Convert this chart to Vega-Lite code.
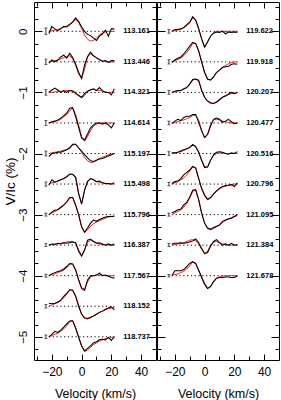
{
"$schema": "https://vega.github.io/schema/vega-lite/v6.json",
"autosize": {"type": "pad"},
"padding": {"left": 3, "top": 1, "right": 2, "bottom": 0},
"spacing": -5,
"config": {
 "view": {"stroke": null},
 "axis": {"labelFont": "Liberation Sans", "titleFont": "Liberation Sans", "labelFontSize": 12, "titleFontSize": 12.5, "titleFontWeight": "normal", "domainColor": "black", "tickColor": "black", "labelColor": "black", "titleColor": "black", "tickWidth": 1, "domainWidth": 1, "grid": false}
},
"datasets": {
 "Lm": [
  {"s":"113.161","off":0,"lo":-0.055,"hi":0.055},
  {"s":"113.446","off":-0.5,"lo":-0.545,"hi":-0.455},
  {"s":"114.321","off":-1,"lo":-1.045,"hi":-0.955},
  {"s":"114.614","off":-1.5,"lo":-1.54,"hi":-1.46},
  {"s":"115.197","off":-2,"lo":-2.04,"hi":-1.96},
  {"s":"115.498","off":-2.5,"lo":-2.535,"hi":-2.465},
  {"s":"115.796","off":-3,"lo":-3.025,"hi":-2.975},
  {"s":"116.387","off":-3.5,"lo":-3.525,"hi":-3.475},
  {"s":"117.567","off":-4,"lo":-4.025,"hi":-3.975},
  {"s":"118.152","off":-4.5,"lo":-4.53,"hi":-4.47},
  {"s":"118.737","off":-5,"lo":-5.03,"hi":-4.97}
 ],
 "Rm": [
  {"s":"119.622","off":0,"lo":-0.03,"hi":0.03},
  {"s":"119.918","off":-0.5,"lo":-0.535,"hi":-0.465},
  {"s":"120.207","off":-1,"lo":-1.03,"hi":-0.97},
  {"s":"120.477","off":-1.5,"lo":-1.53,"hi":-1.47},
  {"s":"120.516","off":-2,"lo":-2.03,"hi":-1.97},
  {"s":"120.796","off":-2.5,"lo":-2.53,"hi":-2.47},
  {"s":"121.095","off":-3,"lo":-3.025,"hi":-2.975},
  {"s":"121.384","off":-3.5,"lo":-3.525,"hi":-3.475},
  {"s":"121.678","off":-4,"lo":-4.02,"hi":-3.98}
 ],
 "L": [
  {"s":"113.161","v":-22,"o":-0.04,"m":0},{"s":"113.161","v":-20,"o":0.08,"m":0.01},{"s":"113.161","v":-18,"o":0.04,"m":0.02},{"s":"113.161","v":-16,"o":0.01,"m":0.03},{"s":"113.161","v":-14,"o":0.04,"m":0.05},{"s":"113.161","v":-12,"o":0.08,"m":0.07},{"s":"113.161","v":-10,"o":0.07,"m":0.09},{"s":"113.161","v":-8,"o":0.11,"m":0.12},{"s":"113.161","v":-6,"o":0.15,"m":0.16},{"s":"113.161","v":-4,"o":0.22,"m":0.19},{"s":"113.161","v":-2,"o":0.16,"m":0.15},{"s":"113.161","v":0,"o":0.07,"m":0.05},{"s":"113.161","v":2,"o":0,"m":-0.06},{"s":"113.161","v":4,"o":-0.05,"m":-0.13},{"s":"113.161","v":6,"o":-0.07,"m":-0.16},{"s":"113.161","v":8,"o":-0.11,"m":-0.15},{"s":"113.161","v":10,"o":-0.15,"m":-0.11},{"s":"113.161","v":12,"o":-0.08,"m":-0.06},{"s":"113.161","v":14,"o":-0.04,"m":-0.03},{"s":"113.161","v":16,"o":0.02,"m":-0.01},{"s":"113.161","v":18,"o":-0.08,"m":0},{"s":"113.161","v":20,"o":0.04,"m":0},{"s":"113.161","v":22,"o":0.04,"m":0},
  {"s":"113.446","v":-22,"o":-0.52,"m":-0.5},{"s":"113.446","v":-20,"o":-0.47,"m":-0.49},{"s":"113.446","v":-18,"o":-0.5,"m":-0.48},{"s":"113.446","v":-16,"o":-0.47,"m":-0.47},{"s":"113.446","v":-14,"o":-0.42,"m":-0.45},{"s":"113.446","v":-12,"o":-0.39,"m":-0.43},{"s":"113.446","v":-10,"o":-0.44,"m":-0.41},{"s":"113.446","v":-8,"o":-0.36,"m":-0.4},{"s":"113.446","v":-6,"o":-0.43,"m":-0.45},{"s":"113.446","v":-4,"o":-0.54,"m":-0.56},{"s":"113.446","v":-2,"o":-0.67,"m":-0.7},{"s":"113.446","v":0,"o":-0.77,"m":-0.77},{"s":"113.446","v":2,"o":-0.55,"m":-0.62},{"s":"113.446","v":4,"o":-0.41,"m":-0.42},{"s":"113.446","v":6,"o":-0.34,"m":-0.37},{"s":"113.446","v":8,"o":-0.4,"m":-0.4},{"s":"113.446","v":10,"o":-0.43,"m":-0.44},{"s":"113.446","v":12,"o":-0.46,"m":-0.47},{"s":"113.446","v":14,"o":-0.49,"m":-0.49},{"s":"113.446","v":16,"o":-0.48,"m":-0.49},{"s":"113.446","v":18,"o":-0.51,"m":-0.5},{"s":"113.446","v":20,"o":-0.48,"m":-0.5},{"s":"113.446","v":22,"o":-0.48,"m":-0.5},
  {"s":"114.321","v":-22,"o":-1,"m":-1},{"s":"114.321","v":-20,"o":-0.96,"m":-1},{"s":"114.321","v":-18,"o":-0.93,"m":-0.99},{"s":"114.321","v":-16,"o":-0.96,"m":-0.99},{"s":"114.321","v":-14,"o":-1,"m":-0.98},{"s":"114.321","v":-12,"o":-0.97,"m":-0.98},{"s":"114.321","v":-10,"o":-1,"m":-0.97},{"s":"114.321","v":-8,"o":-0.97,"m":-0.97},{"s":"114.321","v":-6,"o":-0.98,"m":-0.97},{"s":"114.321","v":-4,"o":-1.02,"m":-1},{"s":"114.321","v":-2,"o":-1.05,"m":-1.05},{"s":"114.321","v":0,"o":-1.08,"m":-1.09},{"s":"114.321","v":2,"o":-1.02,"m":-1.05},{"s":"114.321","v":4,"o":-0.98,"m":-0.98},{"s":"114.321","v":6,"o":-0.96,"m":-0.95},{"s":"114.321","v":8,"o":-0.94,"m":-0.95},{"s":"114.321","v":10,"o":-0.97,"m":-0.96},{"s":"114.321","v":12,"o":-0.92,"m":-0.97},{"s":"114.321","v":14,"o":-0.97,"m":-0.98},{"s":"114.321","v":16,"o":-1,"m":-0.99},{"s":"114.321","v":18,"o":-1,"m":-1},{"s":"114.321","v":20,"o":-1.04,"m":-1},{"s":"114.321","v":22,"o":-0.94,"m":-1},
  {"s":"114.614","v":-22,"o":-1.5,"m":-1.5},{"s":"114.614","v":-20,"o":-1.48,"m":-1.49},{"s":"114.614","v":-18,"o":-1.47,"m":-1.48},{"s":"114.614","v":-16,"o":-1.45,"m":-1.46},{"s":"114.614","v":-14,"o":-1.42,"m":-1.44},{"s":"114.614","v":-12,"o":-1.38,"m":-1.4},{"s":"114.614","v":-10,"o":-1.34,"m":-1.36},{"s":"114.614","v":-8,"o":-1.26,"m":-1.3},{"s":"114.614","v":-6,"o":-1.25,"m":-1.26},{"s":"114.614","v":-4,"o":-1.4,"m":-1.36},{"s":"114.614","v":-2,"o":-1.57,"m":-1.54},{"s":"114.614","v":0,"o":-1.75,"m":-1.72},{"s":"114.614","v":2,"o":-1.78,"m":-1.8},{"s":"114.614","v":4,"o":-1.68,"m":-1.72},{"s":"114.614","v":6,"o":-1.58,"m":-1.62},{"s":"114.614","v":8,"o":-1.53,"m":-1.55},{"s":"114.614","v":10,"o":-1.5,"m":-1.52},{"s":"114.614","v":12,"o":-1.5,"m":-1.5},{"s":"114.614","v":14,"o":-1.52,"m":-1.5},{"s":"114.614","v":16,"o":-1.5,"m":-1.5},{"s":"114.614","v":18,"o":-1.53,"m":-1.5},{"s":"114.614","v":20,"o":-1.58,"m":-1.5},{"s":"114.614","v":22,"o":-1.5,"m":-1.5},
  {"s":"115.197","v":-22,"o":-2.05,"m":-2},{"s":"115.197","v":-20,"o":-2,"m":-1.99},{"s":"115.197","v":-18,"o":-1.99,"m":-1.98},{"s":"115.197","v":-16,"o":-1.98,"m":-1.97},{"s":"115.197","v":-14,"o":-1.98,"m":-1.96},{"s":"115.197","v":-12,"o":-1.96,"m":-1.95},{"s":"115.197","v":-10,"o":-1.94,"m":-1.93},{"s":"115.197","v":-8,"o":-1.91,"m":-1.9},{"s":"115.197","v":-6,"o":-1.85,"m":-1.86},{"s":"115.197","v":-4,"o":-1.85,"m":-1.85},{"s":"115.197","v":-2,"o":-1.91,"m":-1.9},{"s":"115.197","v":0,"o":-1.96,"m":-1.98},{"s":"115.197","v":2,"o":-2.02,"m":-2.06},{"s":"115.197","v":4,"o":-2.07,"m":-2.12},{"s":"115.197","v":6,"o":-2.12,"m":-2.15},{"s":"115.197","v":8,"o":-2.13,"m":-2.14},{"s":"115.197","v":10,"o":-2.11,"m":-2.11},{"s":"115.197","v":12,"o":-2.09,"m":-2.08},{"s":"115.197","v":14,"o":-2.08,"m":-2.06},{"s":"115.197","v":16,"o":-2.06,"m":-2.04},{"s":"115.197","v":18,"o":-2.04,"m":-2.02},{"s":"115.197","v":20,"o":-2.02,"m":-2.01},{"s":"115.197","v":22,"o":-2,"m":-2},
  {"s":"115.498","v":-22,"o":-2.52,"m":-2.5},{"s":"115.498","v":-20,"o":-2.43,"m":-2.48},{"s":"115.498","v":-18,"o":-2.47,"m":-2.47},{"s":"115.498","v":-16,"o":-2.45,"m":-2.45},{"s":"115.498","v":-14,"o":-2.43,"m":-2.43},{"s":"115.498","v":-12,"o":-2.41,"m":-2.41},{"s":"115.498","v":-10,"o":-2.38,"m":-2.38},{"s":"115.498","v":-8,"o":-2.34,"m":-2.34},{"s":"115.498","v":-6,"o":-2.34,"m":-2.34},{"s":"115.498","v":-4,"o":-2.39,"m":-2.39},{"s":"115.498","v":-2,"o":-2.66,"m":-2.65},{"s":"115.498","v":0,"o":-2.83,"m":-2.82},{"s":"115.498","v":2,"o":-2.6,"m":-2.6},{"s":"115.498","v":4,"o":-2.46,"m":-2.45},{"s":"115.498","v":6,"o":-2.41,"m":-2.41},{"s":"115.498","v":8,"o":-2.43,"m":-2.43},{"s":"115.498","v":10,"o":-2.46,"m":-2.46},{"s":"115.498","v":12,"o":-2.45,"m":-2.47},{"s":"115.498","v":14,"o":-2.48,"m":-2.48},{"s":"115.498","v":16,"o":-2.49,"m":-2.49},{"s":"115.498","v":18,"o":-2.49,"m":-2.5},{"s":"115.498","v":20,"o":-2.5,"m":-2.5},{"s":"115.498","v":22,"o":-2.48,"m":-2.5},
  {"s":"115.796","v":-22,"o":-3,"m":-3},{"s":"115.796","v":-20,"o":-2.96,"m":-2.97},{"s":"115.796","v":-18,"o":-2.93,"m":-2.95},{"s":"115.796","v":-16,"o":-2.92,"m":-2.92},{"s":"115.796","v":-14,"o":-2.88,"m":-2.89},{"s":"115.796","v":-12,"o":-2.84,"m":-2.85},{"s":"115.796","v":-10,"o":-2.79,"m":-2.8},{"s":"115.796","v":-8,"o":-2.72,"m":-2.73},{"s":"115.796","v":-6,"o":-2.72,"m":-2.72},{"s":"115.796","v":-4,"o":-2.85,"m":-2.84},{"s":"115.796","v":-2,"o":-3,"m":-3},{"s":"115.796","v":0,"o":-3.2,"m":-3.2},{"s":"115.796","v":2,"o":-3.29,"m":-3.29},{"s":"115.796","v":4,"o":-3.22,"m":-3.25},{"s":"115.796","v":6,"o":-3.14,"m":-3.19},{"s":"115.796","v":8,"o":-3.09,"m":-3.15},{"s":"115.796","v":10,"o":-3.11,"m":-3.12},{"s":"115.796","v":12,"o":-3.08,"m":-3.1},{"s":"115.796","v":14,"o":-3.06,"m":-3.08},{"s":"115.796","v":16,"o":-3.04,"m":-3.06},{"s":"115.796","v":18,"o":-3.03,"m":-3.04},{"s":"115.796","v":20,"o":-3.03,"m":-3.03},{"s":"115.796","v":22,"o":-3.03,"m":-3.02},
  {"s":"116.387","v":-22,"o":-3.5,"m":-3.5},{"s":"116.387","v":-20,"o":-3.48,"m":-3.49},{"s":"116.387","v":-18,"o":-3.49,"m":-3.48},{"s":"116.387","v":-16,"o":-3.47,"m":-3.48},{"s":"116.387","v":-14,"o":-3.48,"m":-3.47},{"s":"116.387","v":-12,"o":-3.46,"m":-3.46},{"s":"116.387","v":-10,"o":-3.47,"m":-3.45},{"s":"116.387","v":-8,"o":-3.46,"m":-3.44},{"s":"116.387","v":-6,"o":-3.45,"m":-3.44},{"s":"116.387","v":-4,"o":-3.46,"m":-3.47},{"s":"116.387","v":-2,"o":-3.6,"m":-3.58},{"s":"116.387","v":0,"o":-3.68,"m":-3.67},{"s":"116.387","v":2,"o":-3.58,"m":-3.58},{"s":"116.387","v":4,"o":-3.42,"m":-3.45},{"s":"116.387","v":6,"o":-3.4,"m":-3.42},{"s":"116.387","v":8,"o":-3.44,"m":-3.44},{"s":"116.387","v":10,"o":-3.47,"m":-3.46},{"s":"116.387","v":12,"o":-3.46,"m":-3.48},{"s":"116.387","v":14,"o":-3.48,"m":-3.49},{"s":"116.387","v":16,"o":-3.5,"m":-3.49},{"s":"116.387","v":18,"o":-3.48,"m":-3.5},{"s":"116.387","v":20,"o":-3.5,"m":-3.5},{"s":"116.387","v":22,"o":-3.48,"m":-3.5},
  {"s":"117.567","v":-22,"o":-4,"m":-4},{"s":"117.567","v":-20,"o":-3.97,"m":-3.98},{"s":"117.567","v":-18,"o":-3.95,"m":-3.97},{"s":"117.567","v":-16,"o":-3.93,"m":-3.95},{"s":"117.567","v":-14,"o":-3.92,"m":-3.93},{"s":"117.567","v":-12,"o":-3.89,"m":-3.91},{"s":"117.567","v":-10,"o":-3.85,"m":-3.87},{"s":"117.567","v":-8,"o":-3.8,"m":-3.81},{"s":"117.567","v":-6,"o":-3.81,"m":-3.81},{"s":"117.567","v":-4,"o":-3.91,"m":-3.9},{"s":"117.567","v":-2,"o":-4.07,"m":-4.06},{"s":"117.567","v":0,"o":-4.21,"m":-4.2},{"s":"117.567","v":2,"o":-4.24,"m":-4.22},{"s":"117.567","v":4,"o":-4.07,"m":-4.1},{"s":"117.567","v":6,"o":-4,"m":-4.02},{"s":"117.567","v":8,"o":-4,"m":-4},{"s":"117.567","v":10,"o":-3.99,"m":-3.99},{"s":"117.567","v":12,"o":-3.96,"m":-3.99},{"s":"117.567","v":14,"o":-4,"m":-3.99},{"s":"117.567","v":16,"o":-3.99,"m":-4},{"s":"117.567","v":18,"o":-4.01,"m":-4},{"s":"117.567","v":20,"o":-4.03,"m":-4},{"s":"117.567","v":22,"o":-4.04,"m":-4},
  {"s":"118.152","v":-22,"o":-4.45,"m":-4.5},{"s":"118.152","v":-20,"o":-4.46,"m":-4.48},{"s":"118.152","v":-18,"o":-4.45,"m":-4.46},{"s":"118.152","v":-16,"o":-4.43,"m":-4.44},{"s":"118.152","v":-14,"o":-4.4,"m":-4.41},{"s":"118.152","v":-12,"o":-4.34,"m":-4.36},{"s":"118.152","v":-10,"o":-4.29,"m":-4.3},{"s":"118.152","v":-8,"o":-4.23,"m":-4.24},{"s":"118.152","v":-6,"o":-4.24,"m":-4.23},{"s":"118.152","v":-4,"o":-4.34,"m":-4.33},{"s":"118.152","v":-2,"o":-4.5,"m":-4.49},{"s":"118.152","v":0,"o":-4.63,"m":-4.63},{"s":"118.152","v":2,"o":-4.69,"m":-4.7},{"s":"118.152","v":4,"o":-4.7,"m":-4.71},{"s":"118.152","v":6,"o":-4.68,"m":-4.69},{"s":"118.152","v":8,"o":-4.66,"m":-4.66},{"s":"118.152","v":10,"o":-4.63,"m":-4.63},{"s":"118.152","v":12,"o":-4.6,"m":-4.6},{"s":"118.152","v":14,"o":-4.58,"m":-4.58},{"s":"118.152","v":16,"o":-4.55,"m":-4.56},{"s":"118.152","v":18,"o":-4.53,"m":-4.54},{"s":"118.152","v":20,"o":-4.51,"m":-4.53},{"s":"118.152","v":22,"o":-4.56,"m":-4.52},
  {"s":"118.737","v":-22,"o":-5,"m":-5},{"s":"118.737","v":-20,"o":-4.96,"m":-4.98},{"s":"118.737","v":-18,"o":-4.91,"m":-4.96},{"s":"118.737","v":-16,"o":-4.93,"m":-4.94},{"s":"118.737","v":-14,"o":-4.89,"m":-4.91},{"s":"118.737","v":-12,"o":-4.84,"m":-4.87},{"s":"118.737","v":-10,"o":-4.79,"m":-4.82},{"s":"118.737","v":-8,"o":-4.74,"m":-4.75},{"s":"118.737","v":-6,"o":-4.74,"m":-4.73},{"s":"118.737","v":-4,"o":-4.86,"m":-4.85},{"s":"118.737","v":-2,"o":-5.01,"m":-5},{"s":"118.737","v":0,"o":-5.15,"m":-5.15},{"s":"118.737","v":2,"o":-5.23,"m":-5.24},{"s":"118.737","v":4,"o":-5.19,"m":-5.22},{"s":"118.737","v":6,"o":-5.15,"m":-5.17},{"s":"118.737","v":8,"o":-5.1,"m":-5.13},{"s":"118.737","v":10,"o":-5.08,"m":-5.1},{"s":"118.737","v":12,"o":-5.05,"m":-5.07},{"s":"118.737","v":14,"o":-5.04,"m":-5.05},{"s":"118.737","v":16,"o":-5.05,"m":-5.03},{"s":"118.737","v":18,"o":-5.01,"m":-5.02},{"s":"118.737","v":20,"o":-5.06,"m":-5.01},{"s":"118.737","v":22,"o":-5,"m":-5}
 ],
 "R": [
  {"s":"119.622","v":-22,"o":0,"m":0},{"s":"119.622","v":-20,"o":0.03,"m":0.01},{"s":"119.622","v":-18,"o":0.03,"m":0.02},{"s":"119.622","v":-16,"o":0.04,"m":0.04},{"s":"119.622","v":-14,"o":0.06,"m":0.06},{"s":"119.622","v":-12,"o":0.11,"m":0.09},{"s":"119.622","v":-10,"o":0.15,"m":0.14},{"s":"119.622","v":-8,"o":0.24,"m":0.22},{"s":"119.622","v":-6,"o":0.18,"m":0.19},{"s":"119.622","v":-4,"o":0.04,"m":0.05},{"s":"119.622","v":-2,"o":-0.12,"m":-0.13},{"s":"119.622","v":0,"o":-0.26,"m":-0.26},{"s":"119.622","v":2,"o":-0.17,"m":-0.18},{"s":"119.622","v":4,"o":-0.08,"m":-0.08},{"s":"119.622","v":6,"o":-0.03,"m":-0.02},{"s":"119.622","v":8,"o":-0.01,"m":0},{"s":"119.622","v":10,"o":-0.02,"m":0},{"s":"119.622","v":12,"o":0,"m":0},{"s":"119.622","v":14,"o":-0.04,"m":0},{"s":"119.622","v":16,"o":-0.01,"m":0},{"s":"119.622","v":18,"o":-0.02,"m":0},{"s":"119.622","v":20,"o":-0.01,"m":0},{"s":"119.622","v":22,"o":-0.02,"m":0},
  {"s":"119.918","v":-22,"o":-0.51,"m":-0.5},{"s":"119.918","v":-20,"o":-0.47,"m":-0.48},{"s":"119.918","v":-18,"o":-0.44,"m":-0.46},{"s":"119.918","v":-16,"o":-0.42,"m":-0.44},{"s":"119.918","v":-14,"o":-0.37,"m":-0.4},{"s":"119.918","v":-12,"o":-0.31,"m":-0.35},{"s":"119.918","v":-10,"o":-0.24,"m":-0.28},{"s":"119.918","v":-8,"o":-0.18,"m":-0.2},{"s":"119.918","v":-6,"o":-0.2,"m":-0.2},{"s":"119.918","v":-4,"o":-0.32,"m":-0.32},{"s":"119.918","v":-2,"o":-0.5,"m":-0.5},{"s":"119.918","v":0,"o":-0.67,"m":-0.68},{"s":"119.918","v":2,"o":-0.78,"m":-0.79},{"s":"119.918","v":4,"o":-0.8,"m":-0.79},{"s":"119.918","v":6,"o":-0.75,"m":-0.74},{"s":"119.918","v":8,"o":-0.67,"m":-0.68},{"s":"119.918","v":10,"o":-0.64,"m":-0.63},{"s":"119.918","v":12,"o":-0.59,"m":-0.59},{"s":"119.918","v":14,"o":-0.58,"m":-0.56},{"s":"119.918","v":16,"o":-0.57,"m":-0.53},{"s":"119.918","v":18,"o":-0.54,"m":-0.51},{"s":"119.918","v":20,"o":-0.53,"m":-0.5},{"s":"119.918","v":22,"o":-0.54,"m":-0.5},
  {"s":"120.207","v":-22,"o":-1,"m":-1},{"s":"120.207","v":-20,"o":-0.98,"m":-0.99},{"s":"120.207","v":-18,"o":-0.97,"m":-0.98},{"s":"120.207","v":-16,"o":-0.97,"m":-0.97},{"s":"120.207","v":-14,"o":-0.94,"m":-0.95},{"s":"120.207","v":-12,"o":-0.92,"m":-0.92},{"s":"120.207","v":-10,"o":-0.86,"m":-0.87},{"s":"120.207","v":-8,"o":-0.79,"m":-0.8},{"s":"120.207","v":-6,"o":-0.78,"m":-0.78},{"s":"120.207","v":-4,"o":-0.8,"m":-0.82},{"s":"120.207","v":-2,"o":-0.97,"m":-0.96},{"s":"120.207","v":0,"o":-1.08,"m":-1.08},{"s":"120.207","v":2,"o":-1.14,"m":-1.15},{"s":"120.207","v":4,"o":-1.17,"m":-1.18},{"s":"120.207","v":6,"o":-1.18,"m":-1.18},{"s":"120.207","v":8,"o":-1.16,"m":-1.15},{"s":"120.207","v":10,"o":-1.12,"m":-1.11},{"s":"120.207","v":12,"o":-1.08,"m":-1.08},{"s":"120.207","v":14,"o":-1.06,"m":-1.05},{"s":"120.207","v":16,"o":-1.03,"m":-1.03},{"s":"120.207","v":18,"o":-1,"m":-1.02},{"s":"120.207","v":20,"o":-1.02,"m":-1.01},{"s":"120.207","v":22,"o":-1,"m":-1},
  {"s":"120.477","v":-22,"o":-1.51,"m":-1.5},{"s":"120.477","v":-20,"o":-1.47,"m":-1.49},{"s":"120.477","v":-18,"o":-1.44,"m":-1.48},{"s":"120.477","v":-16,"o":-1.46,"m":-1.46},{"s":"120.477","v":-14,"o":-1.41,"m":-1.45},{"s":"120.477","v":-12,"o":-1.39,"m":-1.43},{"s":"120.477","v":-10,"o":-1.39,"m":-1.41},{"s":"120.477","v":-8,"o":-1.36,"m":-1.38},{"s":"120.477","v":-6,"o":-1.36,"m":-1.38},{"s":"120.477","v":-4,"o":-1.49,"m":-1.45},{"s":"120.477","v":-2,"o":-1.63,"m":-1.62},{"s":"120.477","v":0,"o":-1.74,"m":-1.74},{"s":"120.477","v":2,"o":-1.69,"m":-1.68},{"s":"120.477","v":4,"o":-1.55,"m":-1.53},{"s":"120.477","v":6,"o":-1.44,"m":-1.45},{"s":"120.477","v":8,"o":-1.42,"m":-1.44},{"s":"120.477","v":10,"o":-1.44,"m":-1.45},{"s":"120.477","v":12,"o":-1.49,"m":-1.47},{"s":"120.477","v":14,"o":-1.47,"m":-1.48},{"s":"120.477","v":16,"o":-1.44,"m":-1.49},{"s":"120.477","v":18,"o":-1.48,"m":-1.5},{"s":"120.477","v":20,"o":-1.51,"m":-1.5},{"s":"120.477","v":22,"o":-1.5,"m":-1.5},
  {"s":"120.516","v":-22,"o":-1.99,"m":-2},{"s":"120.516","v":-20,"o":-1.99,"m":-1.99},{"s":"120.516","v":-18,"o":-1.98,"m":-1.98},{"s":"120.516","v":-16,"o":-1.96,"m":-1.97},{"s":"120.516","v":-14,"o":-1.94,"m":-1.95},{"s":"120.516","v":-12,"o":-1.92,"m":-1.93},{"s":"120.516","v":-10,"o":-1.9,"m":-1.91},{"s":"120.516","v":-8,"o":-1.85,"m":-1.86},{"s":"120.516","v":-6,"o":-1.89,"m":-1.88},{"s":"120.516","v":-4,"o":-1.98,"m":-1.97},{"s":"120.516","v":-2,"o":-2.11,"m":-2.11},{"s":"120.516","v":0,"o":-2.23,"m":-2.22},{"s":"120.516","v":2,"o":-2.22,"m":-2.22},{"s":"120.516","v":4,"o":-2.11,"m":-2.11},{"s":"120.516","v":6,"o":-2.02,"m":-2.03},{"s":"120.516","v":8,"o":-1.98,"m":-2},{"s":"120.516","v":10,"o":-1.97,"m":-1.99},{"s":"120.516","v":12,"o":-1.98,"m":-1.99},{"s":"120.516","v":14,"o":-2,"m":-2},{"s":"120.516","v":16,"o":-2.01,"m":-2},{"s":"120.516","v":18,"o":-1.99,"m":-2},{"s":"120.516","v":20,"o":-2,"m":-2},{"s":"120.516","v":22,"o":-1.97,"m":-2},
  {"s":"120.796","v":-22,"o":-2.49,"m":-2.5},{"s":"120.796","v":-20,"o":-2.46,"m":-2.48},{"s":"120.796","v":-18,"o":-2.45,"m":-2.46},{"s":"120.796","v":-16,"o":-2.41,"m":-2.43},{"s":"120.796","v":-14,"o":-2.35,"m":-2.4},{"s":"120.796","v":-12,"o":-2.31,"m":-2.35},{"s":"120.796","v":-10,"o":-2.27,"m":-2.29},{"s":"120.796","v":-8,"o":-2.21,"m":-2.22},{"s":"120.796","v":-6,"o":-2.24,"m":-2.23},{"s":"120.796","v":-4,"o":-2.41,"m":-2.4},{"s":"120.796","v":-2,"o":-2.57,"m":-2.58},{"s":"120.796","v":0,"o":-2.68,"m":-2.7},{"s":"120.796","v":2,"o":-2.75,"m":-2.76},{"s":"120.796","v":4,"o":-2.72,"m":-2.73},{"s":"120.796","v":6,"o":-2.66,"m":-2.67},{"s":"120.796","v":8,"o":-2.61,"m":-2.62},{"s":"120.796","v":10,"o":-2.57,"m":-2.58},{"s":"120.796","v":12,"o":-2.54,"m":-2.55},{"s":"120.796","v":14,"o":-2.53,"m":-2.53},{"s":"120.796","v":16,"o":-2.52,"m":-2.52},{"s":"120.796","v":18,"o":-2.51,"m":-2.51},{"s":"120.796","v":20,"o":-2.54,"m":-2.5},{"s":"120.796","v":22,"o":-2.48,"m":-2.5},
  {"s":"121.095","v":-22,"o":-2.97,"m":-3},{"s":"121.095","v":-20,"o":-2.95,"m":-2.97},{"s":"121.095","v":-18,"o":-2.92,"m":-2.95},{"s":"121.095","v":-16,"o":-2.91,"m":-2.92},{"s":"121.095","v":-14,"o":-2.84,"m":-2.88},{"s":"121.095","v":-12,"o":-2.8,"m":-2.82},{"s":"121.095","v":-10,"o":-2.71,"m":-2.73},{"s":"121.095","v":-8,"o":-2.6,"m":-2.62},{"s":"121.095","v":-6,"o":-2.59,"m":-2.6},{"s":"121.095","v":-4,"o":-2.76,"m":-2.75},{"s":"121.095","v":-2,"o":-2.98,"m":-2.97},{"s":"121.095","v":0,"o":-3.14,"m":-3.14},{"s":"121.095","v":2,"o":-3.22,"m":-3.23},{"s":"121.095","v":4,"o":-3.24,"m":-3.25},{"s":"121.095","v":6,"o":-3.21,"m":-3.23},{"s":"121.095","v":8,"o":-3.19,"m":-3.2},{"s":"121.095","v":10,"o":-3.17,"m":-3.17},{"s":"121.095","v":12,"o":-3.11,"m":-3.13},{"s":"121.095","v":14,"o":-3.09,"m":-3.1},{"s":"121.095","v":16,"o":-3.07,"m":-3.07},{"s":"121.095","v":18,"o":-3.06,"m":-3.05},{"s":"121.095","v":20,"o":-3.03,"m":-3.03},{"s":"121.095","v":22,"o":-3,"m":-3.02},
  {"s":"121.384","v":-22,"o":-3.48,"m":-3.5},{"s":"121.384","v":-20,"o":-3.47,"m":-3.49},{"s":"121.384","v":-18,"o":-3.47,"m":-3.48},{"s":"121.384","v":-16,"o":-3.46,"m":-3.47},{"s":"121.384","v":-14,"o":-3.47,"m":-3.46},{"s":"121.384","v":-12,"o":-3.46,"m":-3.44},{"s":"121.384","v":-10,"o":-3.45,"m":-3.42},{"s":"121.384","v":-8,"o":-3.43,"m":-3.41},{"s":"121.384","v":-6,"o":-3.4,"m":-3.43},{"s":"121.384","v":-4,"o":-3.46,"m":-3.48},{"s":"121.384","v":-2,"o":-3.55,"m":-3.57},{"s":"121.384","v":0,"o":-3.64,"m":-3.64},{"s":"121.384","v":2,"o":-3.62,"m":-3.6},{"s":"121.384","v":4,"o":-3.52,"m":-3.5},{"s":"121.384","v":6,"o":-3.44,"m":-3.45},{"s":"121.384","v":8,"o":-3.41,"m":-3.44},{"s":"121.384","v":10,"o":-3.46,"m":-3.46},{"s":"121.384","v":12,"o":-3.5,"m":-3.48},{"s":"121.384","v":14,"o":-3.48,"m":-3.49},{"s":"121.384","v":16,"o":-3.5,"m":-3.5},{"s":"121.384","v":18,"o":-3.47,"m":-3.5},{"s":"121.384","v":20,"o":-3.5,"m":-3.5},{"s":"121.384","v":22,"o":-3.49,"m":-3.5},
  {"s":"121.678","v":-22,"o":-4,"m":-4},{"s":"121.678","v":-20,"o":-3.92,"m":-3.98},{"s":"121.678","v":-18,"o":-3.92,"m":-3.97},{"s":"121.678","v":-16,"o":-3.92,"m":-3.95},{"s":"121.678","v":-14,"o":-3.9,"m":-3.93},{"s":"121.678","v":-12,"o":-3.85,"m":-3.89},{"s":"121.678","v":-10,"o":-3.8,"m":-3.84},{"s":"121.678","v":-8,"o":-3.77,"m":-3.78},{"s":"121.678","v":-6,"o":-3.8,"m":-3.8},{"s":"121.678","v":-4,"o":-3.91,"m":-3.91},{"s":"121.678","v":-2,"o":-4.02,"m":-4.04},{"s":"121.678","v":0,"o":-4.13,"m":-4.15},{"s":"121.678","v":2,"o":-4.21,"m":-4.21},{"s":"121.678","v":4,"o":-4.18,"m":-4.17},{"s":"121.678","v":6,"o":-4.1,"m":-4.09},{"s":"121.678","v":8,"o":-4.04,"m":-4.04},{"s":"121.678","v":10,"o":-4.03,"m":-4.02},{"s":"121.678","v":12,"o":-4.03,"m":-4.01},{"s":"121.678","v":14,"o":-4.02,"m":-4},{"s":"121.678","v":16,"o":-4.02,"m":-4},{"s":"121.678","v":18,"o":-4.03,"m":-4},{"s":"121.678","v":20,"o":-4.03,"m":-4},{"s":"121.678","v":22,"o":-4,"m":-4}
 ]
},
"hconcat": [
 {
  "width": 122, "height": 358,
  "layer": [
   {"data": {"name": "Lm"}, "mark": {"type": "rule", "strokeDash": [1.2, 2.6], "color": "black", "strokeWidth": 1},
    "encoding": {
     "x": {"datum": -22, "type": "quantitative", "scale": {"domain": [-32, 50], "nice": false, "zero": false},
       "axis": {"orient": "bottom", "values": [-30,-20,-10,0,10,20,30,40], "labelExpr": "datum.value % 20 === 0 ? datum.label : ''", "tickSize": {"condition": {"test": "datum.value % 20 === 0", "value": -6}, "value": -4}, "labelPadding": 12, "labelFlush": false, "labelOverlap": false, "title": "Velocity (km/s)", "titlePadding": 8}},
     "x2": {"datum": 22},
     "y": {"field": "off", "type": "quantitative", "scale": {"domain": [-5.38, 0.48], "nice": false, "zero": false},
       "axis": {"orient": "left", "values": [0,-1,-2,-3,-4,-5], "format": "d", "labelAngle": -90, "labelAlign": "center", "labelBaseline": "bottom", "labelFontSize": 11.5, "tickSize": -8, "labelPadding": 13.5, "labelOverlap": false, "labelFlush": false, "title": "V/Ic (%)", "titleFontSize": 13.5, "titlePadding": 0, "minExtent": 0, "maxExtent": 17}}
    }},
   {"data": {"name": "Lm"}, "mark": {"type": "rule", "color": "black", "strokeWidth": 0.8},
    "encoding": {
     "x": {"datum": -24, "type": "quantitative", "scale": {"domain": [-32, 50], "nice": false, "zero": false},
       "axis": {"orient": "top", "values": [-30,-20,-10,0,10,20,30,40], "labels": false, "title": null, "tickSize": {"condition": {"test": "datum.value % 20 === 0", "value": -6}, "value": -4}, "minExtent": 0, "maxExtent": 0}},
     "y": {"field": "lo", "type": "quantitative", "scale": {"domain": [-5.38, 0.48], "nice": false, "zero": false},
       "axis": {"orient": "right", "values": [0.4,0.2,0,-0.2,-0.4,-0.6,-0.8,-1,-1.2,-1.4,-1.6,-1.8,-2,-2.2,-2.4,-2.6,-2.8,-3,-3.2,-3.4,-3.6,-3.8,-4,-4.2,-4.4,-4.6,-4.8,-5,-5.2], "labels": false, "title": null, "tickSize": {"condition": {"test": "abs(datum.value-round(datum.value))<0.01", "value": -8}, "value": -4}, "minExtent": 0, "maxExtent": 0}},
     "y2": {"field": "hi"}
    }},
   {"data": {"name": "Lm"}, "mark": {"type": "tick", "orient": "horizontal", "size": 3, "thickness": 0.8, "color": "black"},
    "encoding": {
     "x": {"datum": -24, "type": "quantitative", "scale": {"domain": [-32, 50], "nice": false, "zero": false}, "axis": null},
     "y": {"field": "lo", "type": "quantitative", "scale": {"domain": [-5.38, 0.48], "nice": false, "zero": false}, "axis": null}
    }},
   {"data": {"name": "Lm"}, "mark": {"type": "tick", "orient": "horizontal", "size": 3, "thickness": 0.8, "color": "black"},
    "encoding": {
     "x": {"datum": -24, "type": "quantitative", "scale": {"domain": [-32, 50], "nice": false, "zero": false}, "axis": null},
     "y": {"field": "hi", "type": "quantitative", "scale": {"domain": [-5.38, 0.48], "nice": false, "zero": false}, "axis": null}
    }},
   {"data": {"name": "L"}, "mark": {"type": "line", "color": "#ff1a1a", "strokeWidth": 1},
    "encoding": {
     "x": {"field": "v", "type": "quantitative", "scale": {"domain": [-32, 50], "nice": false, "zero": false}, "axis": null},
     "y": {"field": "m", "type": "quantitative", "scale": {"domain": [-5.38, 0.48], "nice": false, "zero": false},
       "axis": {"orient": "left", "values": [0.4,0.2,-0.2,-0.4,-0.6,-0.8,-1.2,-1.4,-1.6,-1.8,-2.2,-2.4,-2.6,-2.8,-3.2,-3.4,-3.6,-3.8,-4.2,-4.4,-4.6,-4.8,-5.2], "labels": false, "domain": false, "title": null, "tickSize": -4, "minExtent": 0, "maxExtent": 0}},
     "detail": {"field": "s"}
    }},
   {"data": {"name": "L"}, "mark": {"type": "line", "color": "black", "strokeWidth": 1.05},
    "encoding": {
     "x": {"field": "v", "type": "quantitative", "scale": {"domain": [-32, 50], "nice": false, "zero": false}, "axis": null},
     "y": {"field": "o", "type": "quantitative", "scale": {"domain": [-5.38, 0.48], "nice": false, "zero": false}, "axis": null},
     "detail": {"field": "s"}
    }},
   {"data": {"name": "Lm"}, "mark": {"type": "text", "align": "left", "baseline": "middle", "font": "Liberation Sans", "fontSize": 7.5, "fontWeight": "bold", "color": "black"},
    "encoding": {
     "x": {"datum": 28, "type": "quantitative", "scale": {"domain": [-32, 50], "nice": false, "zero": false}, "axis": null},
     "y": {"field": "off", "type": "quantitative", "scale": {"domain": [-5.38, 0.48], "nice": false, "zero": false}, "axis": null},
     "text": {"field": "s"}
    }}
  ],
  "resolve": {"axis": {"x": "independent", "y": "independent"}}
 },
 {
  "width": 122, "height": 358,
  "layer": [
   {"data": {"name": "Rm"}, "mark": {"type": "rule", "strokeDash": [1.2, 2.6], "color": "black", "strokeWidth": 1},
    "encoding": {
     "x": {"datum": -22, "type": "quantitative", "scale": {"domain": [-32, 50], "nice": false, "zero": false},
       "axis": {"orient": "bottom", "values": [-30,-20,-10,0,10,20,30,40], "labelExpr": "datum.value % 20 === 0 ? datum.label : ''", "tickSize": {"condition": {"test": "datum.value % 20 === 0", "value": -6}, "value": -4}, "labelPadding": 12, "labelFlush": false, "labelOverlap": false, "title": "Velocity (km/s)", "titlePadding": 8}},
     "x2": {"datum": 22},
     "y": {"field": "off", "type": "quantitative", "scale": {"domain": [-5.38, 0.48], "nice": false, "zero": false},
       "axis": {"orient": "left", "values": [0.4,0.2,0,-0.2,-0.4,-0.6,-0.8,-1,-1.2,-1.4,-1.6,-1.8,-2,-2.2,-2.4,-2.6,-2.8,-3,-3.2,-3.4,-3.6,-3.8,-4,-4.2,-4.4,-4.6,-4.8,-5,-5.2], "labels": false, "title": null, "tickSize": {"condition": {"test": "abs(datum.value-round(datum.value))<0.01", "value": -8}, "value": -4}, "minExtent": 0, "maxExtent": 0}}
    }},
   {"data": {"name": "Rm"}, "mark": {"type": "rule", "color": "black", "strokeWidth": 0.8},
    "encoding": {
     "x": {"datum": -24, "type": "quantitative", "scale": {"domain": [-32, 50], "nice": false, "zero": false},
       "axis": {"orient": "top", "values": [-30,-20,-10,0,10,20,30,40], "labels": false, "title": null, "tickSize": {"condition": {"test": "datum.value % 20 === 0", "value": -6}, "value": -4}, "minExtent": 0, "maxExtent": 0}},
     "y": {"field": "lo", "type": "quantitative", "scale": {"domain": [-5.38, 0.48], "nice": false, "zero": false},
       "axis": {"orient": "right", "values": [0.4,0.2,0,-0.2,-0.4,-0.6,-0.8,-1,-1.2,-1.4,-1.6,-1.8,-2,-2.2,-2.4,-2.6,-2.8,-3,-3.2,-3.4,-3.6,-3.8,-4,-4.2,-4.4,-4.6,-4.8,-5,-5.2], "labels": false, "title": null, "tickSize": {"condition": {"test": "abs(datum.value-round(datum.value))<0.01", "value": -8}, "value": -4}, "minExtent": 0, "maxExtent": 0}},
     "y2": {"field": "hi"}
    }},
   {"data": {"name": "Rm"}, "mark": {"type": "tick", "orient": "horizontal", "size": 3, "thickness": 0.8, "color": "black"},
    "encoding": {
     "x": {"datum": -24, "type": "quantitative", "scale": {"domain": [-32, 50], "nice": false, "zero": false}, "axis": null},
     "y": {"field": "lo", "type": "quantitative", "scale": {"domain": [-5.38, 0.48], "nice": false, "zero": false}, "axis": null}
    }},
   {"data": {"name": "Rm"}, "mark": {"type": "tick", "orient": "horizontal", "size": 3, "thickness": 0.8, "color": "black"},
    "encoding": {
     "x": {"datum": -24, "type": "quantitative", "scale": {"domain": [-32, 50], "nice": false, "zero": false}, "axis": null},
     "y": {"field": "hi", "type": "quantitative", "scale": {"domain": [-5.38, 0.48], "nice": false, "zero": false}, "axis": null}
    }},
   {"data": {"name": "R"}, "mark": {"type": "line", "color": "#ff1a1a", "strokeWidth": 1},
    "encoding": {
     "x": {"field": "v", "type": "quantitative", "scale": {"domain": [-32, 50], "nice": false, "zero": false}, "axis": null},
     "y": {"field": "m", "type": "quantitative", "scale": {"domain": [-5.38, 0.48], "nice": false, "zero": false}, "axis": null},
     "detail": {"field": "s"}
    }},
   {"data": {"name": "R"}, "mark": {"type": "line", "color": "black", "strokeWidth": 1.05},
    "encoding": {
     "x": {"field": "v", "type": "quantitative", "scale": {"domain": [-32, 50], "nice": false, "zero": false}, "axis": null},
     "y": {"field": "o", "type": "quantitative", "scale": {"domain": [-5.38, 0.48], "nice": false, "zero": false}, "axis": null},
     "detail": {"field": "s"}
    }},
   {"data": {"name": "Rm"}, "mark": {"type": "text", "align": "left", "baseline": "middle", "font": "Liberation Sans", "fontSize": 7.5, "fontWeight": "bold", "color": "black"},
    "encoding": {
     "x": {"datum": 28, "type": "quantitative", "scale": {"domain": [-32, 50], "nice": false, "zero": false}, "axis": null},
     "y": {"field": "off", "type": "quantitative", "scale": {"domain": [-5.38, 0.48], "nice": false, "zero": false}, "axis": null},
     "text": {"field": "s"}
    }}
  ],
  "resolve": {"axis": {"x": "independent", "y": "independent"}}
 }
]
}
